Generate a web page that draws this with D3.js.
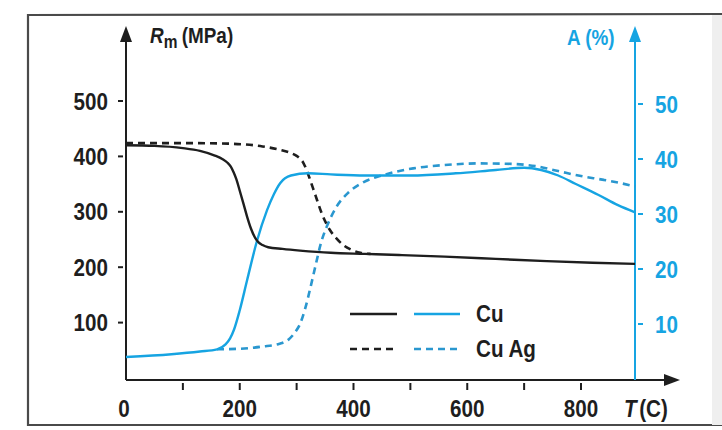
<!DOCTYPE html>
<html><head><meta charset="utf-8">
<script src="https://cdn.jsdelivr.net/npm/d3@7"></script>
<style>
html,body{margin:0;padding:0;background:#fff;}
svg{display:block;}
text{font-family:"Liberation Sans",Arial,sans-serif;font-weight:bold;}
</style></head>
<body><svg id="c" width="722" height="430"></svg>
<script>
// ---- data ----
const xTickMarks = [100,200,300,400,500,600,700,800];
const xTickLabels = [0,200,400,600,800];
const rmTicks = [100,200,300,400,500];
const aTicks = [10,20,30,40,50];

const cuRm = [[0,420],[50,419],[100,415],[130,410],[155,402],[170,395],[178,389],[184,382],[189,372],[194,359],[200,338],[207,313],[213,291],[220,269],[226,255],[232,246],[240,240],[250,236],[275,233],[306,230],[360,226],[420,224],[480,222],[560,219],[650,215],[740,211],[820,208],[895,206]];
const cuAgRm = [[0,424],[100,424],[180,423],[240,418],[270,412],[290,406],[300,401],[306,396],[312,388],[318,374],[324,357],[333,330],[345,295],[358,268],[370,252],[382,240],[395,232],[412,226],[430,224]];
const cuA = [[0,4],[80,4.5],[130,5],[160,5.4],[175,6.3],[183,7.4],[190,9],[200,12.5],[213,18],[230,25],[248,30.7],[260,33.6],[271,35.6],[290,37],[320,37.4],[360,37.2],[420,37],[500,37],[580,37.4],[650,38],[700,38.4],[730,38],[760,37],[790,35.5],[830,33.5],[865,31.6],[895,30.3]];
const cuAgA = [[160,5.4],[200,5.5],[240,5.9],[270,6.4],[286,7.2],[298,8.6],[306,10],[315,12.8],[324,16.5],[333,20.5],[343,24.8],[355,28.2],[370,31.3],[390,33.8],[418,35.8],[450,37],[505,38.3],[560,38.9],[620,39.2],[680,39.1],[720,38.7],[760,37.8],[800,36.9],[840,36.2],[870,35.6],[895,35]];

const BLACK = "#1e1e1e";
const BLUE = "#16a4e2";
const BLUE_D = "#2a97cf";
const FS = 24, SX = 0.86;

// ---- scales ----
const svg = d3.select("#c");
const x = d3.scaleLinear().domain([0,800]).range([126,581]);
const yL = d3.scaleLinear().domain([0,500]).range([378,101]);
const yR = d3.scaleLinear().domain([0,50]).range([379,104]);
const xAxisY = 380, leftX = 126, rightX = 635;

// condensed text helper
function ctext(parent, px, py, anchor, color, fs){
  return parent.append("text")
    .attr("transform",`translate(${px},${py}) scale(${SX},1)`)
    .attr("text-anchor",anchor||"start").attr("font-size",fs||FS).attr("fill",color||BLACK);
}

// frame
svg.append("path").attr("d","M722,14 L28,15 L28,425 L722,425")
  .attr("fill","none").attr("stroke","#4a4a4a").attr("stroke-width",2.2);
svg.append("rect").attr("x",712).attr("y",15).attr("width",10).attr("height",410).attr("fill","#efefef");

// x axis
svg.append("line").attr("x1",leftX).attr("x2",668).attr("y1",xAxisY).attr("y2",xAxisY)
  .attr("stroke",BLACK).attr("stroke-width",2);
svg.append("path").attr("d",`M680,${xAxisY} L664,${xAxisY-6} L664,${xAxisY+6}Z`).attr("fill",BLACK);
svg.append("g").selectAll("line").data(xTickMarks).join("line")
  .attr("x1",d=>x(d)).attr("x2",d=>x(d)).attr("y1",xAxisY+3).attr("y2",xAxisY+10)
  .attr("stroke",BLACK).attr("stroke-width",2);
const xg = svg.append("g");
xTickLabels.forEach(d=>ctext(xg, x(d)-(d===0?2:0), 417, "middle").text(d));
const tl = ctext(svg, 624, 417, "start");
tl.append("tspan").attr("font-style","italic").text("T");
tl.append("tspan").attr("dx",3).text("(C)");

// left axis
svg.append("line").attr("x1",leftX).attr("x2",leftX).attr("y1",xAxisY).attr("y2",38)
  .attr("stroke",BLACK).attr("stroke-width",2);
svg.append("path").attr("d",`M${leftX},26 L${leftX-6},42 L${leftX+6},42Z`).attr("fill",BLACK);
svg.append("g").selectAll("line").data(rmTicks).join("line")
  .attr("x1",leftX-8).attr("x2",leftX-3).attr("y1",d=>yL(d)).attr("y2",d=>yL(d))
  .attr("stroke",BLACK).attr("stroke-width",2);
const lgx = svg.append("g");
rmTicks.forEach(d=>ctext(lgx, 108, yL(d)+8.5, "end").text(d));
const rl = ctext(svg, 150, 43, "start", BLACK, 22);
rl.append("tspan").attr("font-style","italic").text("R");
rl.append("tspan").attr("dy",5).attr("font-size",18).text("m");
rl.append("tspan").attr("dy",-5).attr("dx",5).text("(MPa)");

// right axis
svg.append("line").attr("x1",rightX).attr("x2",rightX).attr("y1",xAxisY).attr("y2",38)
  .attr("stroke",BLUE).attr("stroke-width",2);
svg.append("path").attr("d",`M${rightX},26 L${rightX-6},42 L${rightX+6},42Z`).attr("fill",BLUE);
svg.append("g").selectAll("line").data(aTicks).join("line")
  .attr("x1",rightX+3).attr("x2",rightX+8).attr("y1",d=>yR(d)).attr("y2",d=>yR(d))
  .attr("stroke",BLUE).attr("stroke-width",2);
const rgx = svg.append("g");
aTicks.forEach(d=>ctext(rgx, 655, yR(d)+8.5, "start", BLUE).text(d));
ctext(svg, 567, 45, "start", BLUE, 22).text("A (%)");

// curves
const lineL = d3.line().x(d=>x(d[0])).y(d=>yL(d[1])).curve(d3.curveMonotoneX);
const lineR = d3.line().x(d=>x(d[0])).y(d=>yR(d[1])).curve(d3.curveMonotoneX);
svg.append("path").attr("d",lineR(cuAgA)).attr("fill","none").attr("stroke",BLUE_D).attr("stroke-width",2.6).attr("stroke-dasharray","7,5");
svg.append("path").attr("d",lineL(cuAgRm)).attr("fill","none").attr("stroke",BLACK).attr("stroke-width",2.6).attr("stroke-dasharray","7,5");
svg.append("path").attr("d",lineR(cuA)).attr("fill","none").attr("stroke",BLUE).attr("stroke-width",2.4);
svg.append("path").attr("d",lineL(cuRm)).attr("fill","none").attr("stroke",BLACK).attr("stroke-width",2.4);

// legend
const legend = [
  {name:"Cu", dash:null, y:314},
  {name:"Cu Ag", dash:"7,5", y:349}
];
const lg = svg.append("g");
legend.forEach(l=>{
  lg.append("line").attr("x1",350).attr("x2",397).attr("y1",l.y).attr("y2",l.y)
    .attr("stroke",BLACK).attr("stroke-width",2.6).attr("stroke-dasharray",l.dash);
  lg.append("line").attr("x1",414).attr("x2",460).attr("y1",l.y).attr("y2",l.y)
    .attr("stroke",l.dash?BLUE_D:BLUE).attr("stroke-width",2.6).attr("stroke-dasharray",l.dash);
  ctext(lg, 476, l.y+8, "start").text(l.name);
});
</script></body></html>
